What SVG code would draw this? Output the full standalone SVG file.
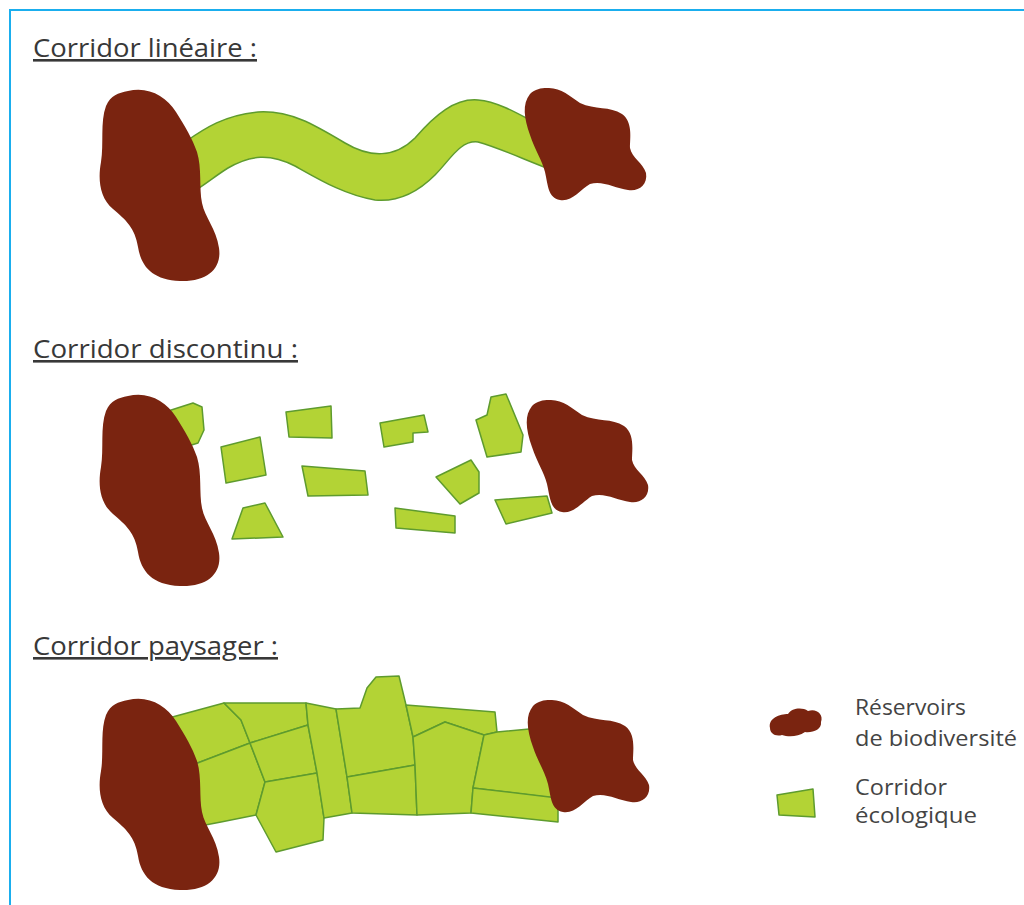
<svg xmlns="http://www.w3.org/2000/svg" xmlns:xlink="http://www.w3.org/1999/xlink" width="1024" height="905" viewBox="0 0 1024 905">
<style>
.title{font-family:"Open Sans","Liberation Sans",sans-serif;font-size:26px;fill:#383838;text-decoration:underline;}
.leg{font-family:"Open Sans","Liberation Sans",sans-serif;font-size:21px;fill:#444;}
.res{fill:#7a2410;stroke:none;}
.cor{fill:#b3d335;stroke:#5e9b2e;stroke-width:1.5;stroke-linejoin:round;}
.frame{fill:none;stroke:#1aaeee;stroke-width:2;}
</style>
<defs>
<path id="blobL" d="M 128,91 C 148,86 166,96 176,112 C 186,128 192,138 197,152 C 202,168 199,188 202,203 C 205,218 216,228 219,248 C 222,268 208,282 180,281 C 152,280 141,266 138,247 C 135,228 126,220 113,209 C 99,197 98,178 101,162 C 104,144 100,122 106,106 C 111,95 118,93 128,91 Z"/>
<path id="blobR" d="M 547,88 C 560,87 570,96 580,103 C 595,110 610,106 622,114 C 633,122 630,138 630,148 C 632,158 643,163 646,173 C 648,185 638,192 628,190 C 615,188 602,180 590,184 C 580,190 572,202 560,200 C 548,198 548,185 545,172 C 542,160 535,150 530,135 C 524,118 522,104 530,94 C 535,89 541,88 547,88 Z"/>
</defs>
<rect width="1024" height="905" fill="#fff"/>
<path class="frame" d="M 10,905 L 10,10 L 1024,10"/>

<g id="titles">
<text class="title" x="33" y="57" textLength="224" lengthAdjust="spacingAndGlyphs">Corridor linéaire :</text>
<text class="title" x="33" y="358" textLength="265" lengthAdjust="spacingAndGlyphs">Corridor discontinu :</text>
<text class="title" x="33" y="655" textLength="245" lengthAdjust="spacingAndGlyphs">Corridor paysager :</text>
</g>

<g id="corridor-lineaire">
<path class="cor" d="M 185,142 C 205,128 225,115 258,112 C 290,110 315,125 345,143 C 370,158 395,158 415,138 C 435,115 455,98 478,100 C 500,102 520,115 545,128 L 552,170 C 525,160 500,148 478,142 C 460,140 450,160 435,175 C 415,195 395,202 375,200 C 345,195 320,180 295,166 C 270,153 250,155 228,168 C 215,176 205,185 188,195 Z"/>
<use class="res" href="#blobL"/>
<use class="res" href="#blobR"/>
</g>

<g id="corridor-discontinu">
<polygon class="cor" points="165,412 193,403 202,407 204,430 198,443 185,447 170,440"/>
<polygon class="cor" points="221,447 260,437 266,475 226,483"/>
<polygon class="cor" points="286,412 331,406 332,438 289,437"/>
<polygon class="cor" points="302,466 365,471 368,495 308,496"/>
<polygon class="cor" points="243,508 265,503 283,537 232,539"/>
<polygon class="cor" points="380,423 424,415 428,432 413,433 413,442 384,447"/>
<polygon class="cor" points="476,420 487,415 491,397 506,394 523,435 521,452 487,457"/>
<polygon class="cor" points="436,477 471,460 479,472 479,493 460,504"/>
<polygon class="cor" points="395,508 455,516 455,533 396,528"/>
<polygon class="cor" points="495,500 547,496 552,513 506,524"/>
<use class="res" href="#blobL" transform="translate(0,305)"/>
<use class="res" href="#blobR" transform="translate(2,312)"/>
</g>

<g id="corridor-paysager">
<polygon class="cor" points="165,719 224,703 241,720 250,743 195,764"/>
<polygon class="cor" points="224,703 306,703 308,725 250,743 241,720"/>
<polygon class="cor" points="195,764 250,743 265,782 256,815 221,822 200,826"/>
<polygon class="cor" points="250,743 308,725 317,773 265,782"/>
<polygon class="cor" points="265,782 317,773 324,818 323,840 276,852 256,815"/>
<polygon class="cor" points="306,703 336,709 347,777 352,813 324,818 317,773 308,725"/>
<polygon class="cor" points="336,709 360,708 367,688 376,677 399,676 406,705 413,737 415,765 347,777"/>
<polygon class="cor" points="347,777 415,765 417,815 352,813"/>
<polygon class="cor" points="406,705 495,712 497,732 484,735 445,722 413,737"/>
<polygon class="cor" points="413,737 445,722 484,735 473,788 471,813 417,815 415,765"/>
<polygon class="cor" points="484,735 497,732 540,728 562,799 473,788"/>
<polygon class="cor" points="473,788 558,798 558,822 471,813"/>
<use class="res" href="#blobL" transform="translate(0,609)"/>
<use class="res" href="#blobR" transform="translate(3,612)"/>
</g>

<g id="legende">
<path class="res" d="M 770,728 C 768,718 780,714 788,714 C 792,708 802,707 808,711 C 816,708 824,714 821,722 C 822,730 812,733 805,732 C 798,737 788,737 782,735 C 775,737 770,733 770,728 Z"/>
<polygon class="cor" points="777,795 813,789 815,817 779,815"/>
<text class="leg" x="855" y="715" textLength="111" lengthAdjust="spacingAndGlyphs">Réservoirs</text>
<text class="leg" x="855" y="746" textLength="162" lengthAdjust="spacingAndGlyphs">de biodiversité</text>
<text class="leg" x="855" y="795" textLength="92" lengthAdjust="spacingAndGlyphs">Corridor</text>
<text class="leg" x="855" y="823" textLength="122" lengthAdjust="spacingAndGlyphs">écologique</text>
</g>
</svg>
